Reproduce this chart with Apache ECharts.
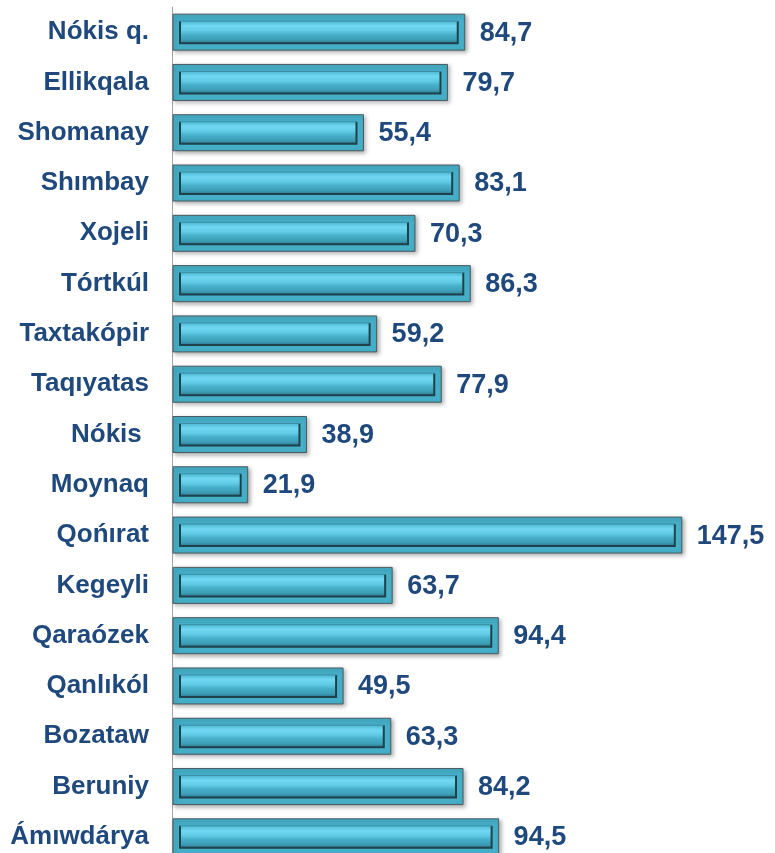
<!DOCTYPE html>
<html>
<head>
<meta charset="utf-8">
<script src="https://cdn.jsdelivr.net/npm/echarts@6/dist/echarts.min.js"></script>
<style>
  html, body { margin: 0; padding: 0; background: #fff; overflow: hidden; }
  #chart { width: 775px; height: 870px; }
</style>
</head>
<body>
<div id="chart"></div>
<script>
    // tumanlar (yuqoridan pastga)
    var districts = ['Nókis q.', 'Ellikqala', 'Shomanay', 'Shımbay', 'Xojeli', 'Tórtkúl', 'Taxtakópir',
        'Taqıyatas', 'Nókis ', 'Moynaq', 'Qońırat', 'Kegeyli', 'Qaraózek', 'Qanlıkól', 'Bozataw',
        'Beruniy', 'Ámıwdárya'];
    var values = [84.7, 79.7, 55.4, 83.1, 70.3, 86.3, 59.2, 77.9, 38.9, 21.9, 147.5, 63.7, 94.4, 49.5, 63.3, 84.2, 94.5];

    var textColor = '#1f497d';
    var fontFamily = '"Liberation Sans", Arial, sans-serif';

    var chart = echarts.init(document.getElementById('chart'));

    var seriesData = [];
    for (var i = 0; i < values.length; i++) {
        seriesData.push([values[i], i]);
    }

    function fmt(v) {
        return v.toFixed(1).replace('.', ',');
    }

    // 3D ko'rinishdagi bar
    function renderBar(params, api) {
        var v = api.value(0);
        var c = api.value(1);
        var start = api.coord([0, c]);
        var end = api.coord([v, c]);
        var h = 36;
        var x0 = start[0] + 1;
        var y0 = start[1] - h / 2;
        var w = end[0] - x0;
        var inset = 7;
        var ix = x0 + inset, iy = y0 + inset, iw = w - inset * 2, ih = h - inset * 2;
        var inner = new echarts.graphic.LinearGradient(0, 0, 0, 1, [
            {offset: 0, color: '#4cb8d2'},
            {offset: 0.22, color: '#72d8f2'},
            {offset: 0.45, color: '#5fc9e4'},
            {offset: 0.6, color: '#49b1cb'},
            {offset: 0.85, color: '#3c9db6'},
            {offset: 1, color: '#2b7689'}
        ]);
        return {
            type: 'group',
            children: [
                {
                    type: 'rect',
                    shape: {x: x0, y: y0, width: w, height: h},
                    style: {
                        fill: '#46afc8', stroke: '#4a5a5f', lineWidth: 1,
                        shadowBlur: 4, shadowOffsetX: 2, shadowOffsetY: 2, shadowColor: 'rgba(0,0,0,0.3)'
                    }
                },
                {
                    type: 'rect',
                    shape: {x: ix, y: iy, width: iw, height: ih},
                    style: {fill: inner}
                },
                {
                    type: 'polyline',
                    shape: {points: [[ix, iy], [ix, iy + ih], [ix + iw, iy + ih], [ix + iw, iy]]},
                    style: {stroke: '#1f414b', lineWidth: 2, fill: null}
                },
                {
                    type: 'line',
                    shape: {x1: ix, y1: iy, x2: ix + iw, y2: iy},
                    style: {stroke: '#3b8ea3', lineWidth: 1}
                },
                {
                    type: 'text',
                    x: end[0] + 15,
                    y: start[1] + 1,
                    style: {
                        text: fmt(v),
                        fill: textColor,
                        font: 'bold 27px ' + fontFamily,
                        verticalAlign: 'middle',
                        align: 'left'
                    }
                }
            ]
        };
    }

    var option = {
        animation: false,
        backgroundColor: '#fff',
        grid: {left: 172, top: 7, width: 553, height: 855},
        xAxis: {
            type: 'value',
            min: 0,
            max: 160,
            show: false
        },
        yAxis: {
            type: 'category',
            inverse: true,
            data: districts,
            axisLine: {show: true, lineStyle: {color: '#a6a6a6', width: 1}},
            axisTick: {show: false},
            axisLabel: {
                margin: 23,
                color: textColor,
                fontWeight: 'bold',
                fontSize: 26,
                fontFamily: fontFamily
            }
        },
        series: [
            {
                type: 'custom',
                renderItem: renderBar,
                encode: {x: 0, y: 1},
                data: seriesData,
                clip: false
            }
        ]
    };
    chart.setOption(option);
</script>
</body>
</html>
